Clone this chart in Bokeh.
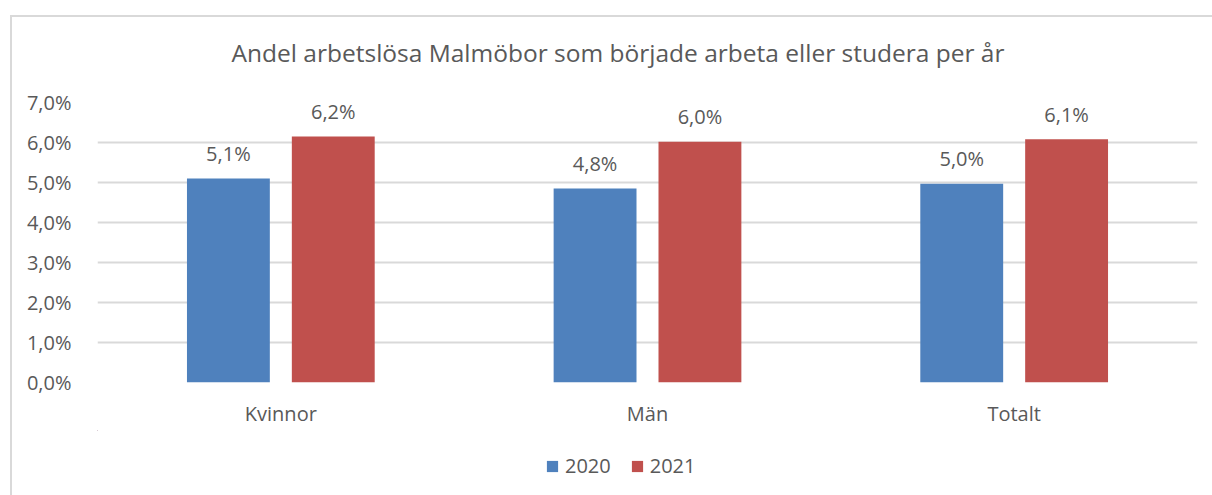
from bokeh.plotting import figure
from bokeh.layouts import column
from bokeh.models import Range1d, FixedTicker, Legend, LegendItem, ColumnDataSource, InlineStyleSheet
from bokeh.core.properties import value
from bokeh.embed import file_html
from bokeh.resources import INLINE

title = "Andel arbetslösa Malmöbor som började arbeta eller studera per år"
categories = ["Kvinnor", "Män", "Totalt"]
years = ["2020", "2021"]
v2020 = [5.1, 4.85, 4.97]
v2021 = [6.15, 6.02, 6.08]
y_ticks = [0, 1, 2, 3, 4, 5, 6, 7]
y_tick_labels = ["0,0%", "1,0%", "2,0%", "3,0%", "4,0%", "5,0%", "6,0%", "7,0%"]

BLUE = "#4F81BD"
RED = "#C0504D"
TXT = "#595959"
GRID = "#D9D9D9"
FONT = "Open Sans"
FS = "20px"
W = 1212
FL, FR = 97, 1197   # frame edges (column aligns frames of all strips)

def fmt(v):
    return f"{v:.1f}".replace(".", ",") + "%"

def blank_fig(h, shift=0):
    f = figure(width=W, height=h, output_backend="svg", toolbar_location=None,
               x_axis_type=None, y_axis_type=None,
               x_range=Range1d(FL + shift, FR + shift), y_range=Range1d(h + shift, shift),
               min_border=0, min_border_left=0, min_border_right=0, min_border_top=0, min_border_bottom=0)
    f.outline_line_color = None
    f.background_fill_color = "white"
    f.border_fill_color = "white"
    f.xgrid.visible = False
    f.ygrid.visible = False
    return f

# ---- title strip ----
pt = blank_fig(80)
pt.text(x=[617.5], y=[52], text=[title], text_align="center", text_baseline="middle",
        text_font=value(FONT), text_font_size="24.5px", text_color=TXT)

# ---- main chart ----
idx = list(range(len(categories)))
off = 0.143
bw = 0.226
src20 = ColumnDataSource(dict(x=[i + 0.5 - off for i in idx], top=v2020, lab=[fmt(v) for v in v2020]))
src21 = ColumnDataSource(dict(x=[i + 0.5 + off for i in idx], top=v2021, lab=[fmt(v) for v in v2021]))

p = figure(width=W, height=350, output_backend="svg", toolbar_location=None,
           x_range=Range1d(0, 3), y_range=Range1d(0, 7),
           min_border_left=FL, min_border_right=W - FR, min_border_top=22, min_border_bottom=48)
p.title = None
p.outline_line_color = None
p.background_fill_color = "white"
p.border_fill_color = "white"

p.vbar(x="x", top="top", width=bw, source=src20, fill_color=BLUE, line_color=None)
p.vbar(x="x", top="top", width=bw, source=src21, fill_color=RED, line_color=None)

for s in (src20, src21):
    p.text(x="x", y="top", text="lab", source=s, text_align="center", text_baseline="middle",
           y_offset=-25, text_font=value(FONT), text_font_size=FS, text_color=TXT)

p.xaxis.ticker = FixedTicker(ticks=[i + 0.5 for i in idx])
p.xaxis.major_label_overrides = {i + 0.5: c for i, c in zip(idx, categories)}
p.yaxis.ticker = FixedTicker(ticks=y_ticks)
p.yaxis.major_label_overrides = {t: l for t, l in zip(y_ticks, y_tick_labels)}
for ax in (p.xaxis, p.yaxis):
    ax.axis_line_color = None
    ax.major_tick_line_color = None
    ax.minor_tick_line_color = None
    ax.major_tick_out = 0
    ax.major_tick_in = 0
    ax.major_label_text_font = FONT
    ax.major_label_text_font_size = FS
    ax.major_label_text_color = TXT
p.yaxis.major_label_standoff = 26
p.xaxis.major_label_standoff = 17

p.xgrid.grid_line_color = None
p.ygrid.grid_line_color = GRID
p.ygrid.grid_line_width = 2
p.ygrid.ticker = FixedTicker(ticks=y_ticks)

# ---- legend strip (its ranges are far away from the bars, so only the legend shows) ----
pl = blank_fig(65, shift=5000)
k20 = pl.vbar(x="x", top="top", width=bw, source=src20, fill_color=BLUE, line_color=None)
k21 = pl.vbar(x="x", top="top", width=bw, source=src21, fill_color=RED, line_color=None)
legend = Legend(items=[LegendItem(label=years[0], renderers=[k20]), LegendItem(label=years[1], renderers=[k21])],
                orientation="horizontal", location=(545 - FL, 16), padding=0, margin=0,
                border_line_color=None, background_fill_alpha=0,
                glyph_width=14, glyph_height=14, label_height=27, label_standoff=6, spacing=19,
                label_text_font=FONT, label_text_font_size=FS, label_text_color=TXT)
pl.add_layout(legend, "center")

layout = column(pt, p, pl, spacing=0)
# outer chart border (top and left edges visible in the window)
layout.stylesheets = [InlineStyleSheet(css=""":host::after { content: ""; position: absolute; left: 10px; top: 15px;
 width: 1202px; height: 480px; box-sizing: border-box; border-top: 2px solid #D9D9D9;
 border-left: 2px solid #D9D9D9; pointer-events: none; }""")]

open("out.html", "w").write(file_html(layout, INLINE))
